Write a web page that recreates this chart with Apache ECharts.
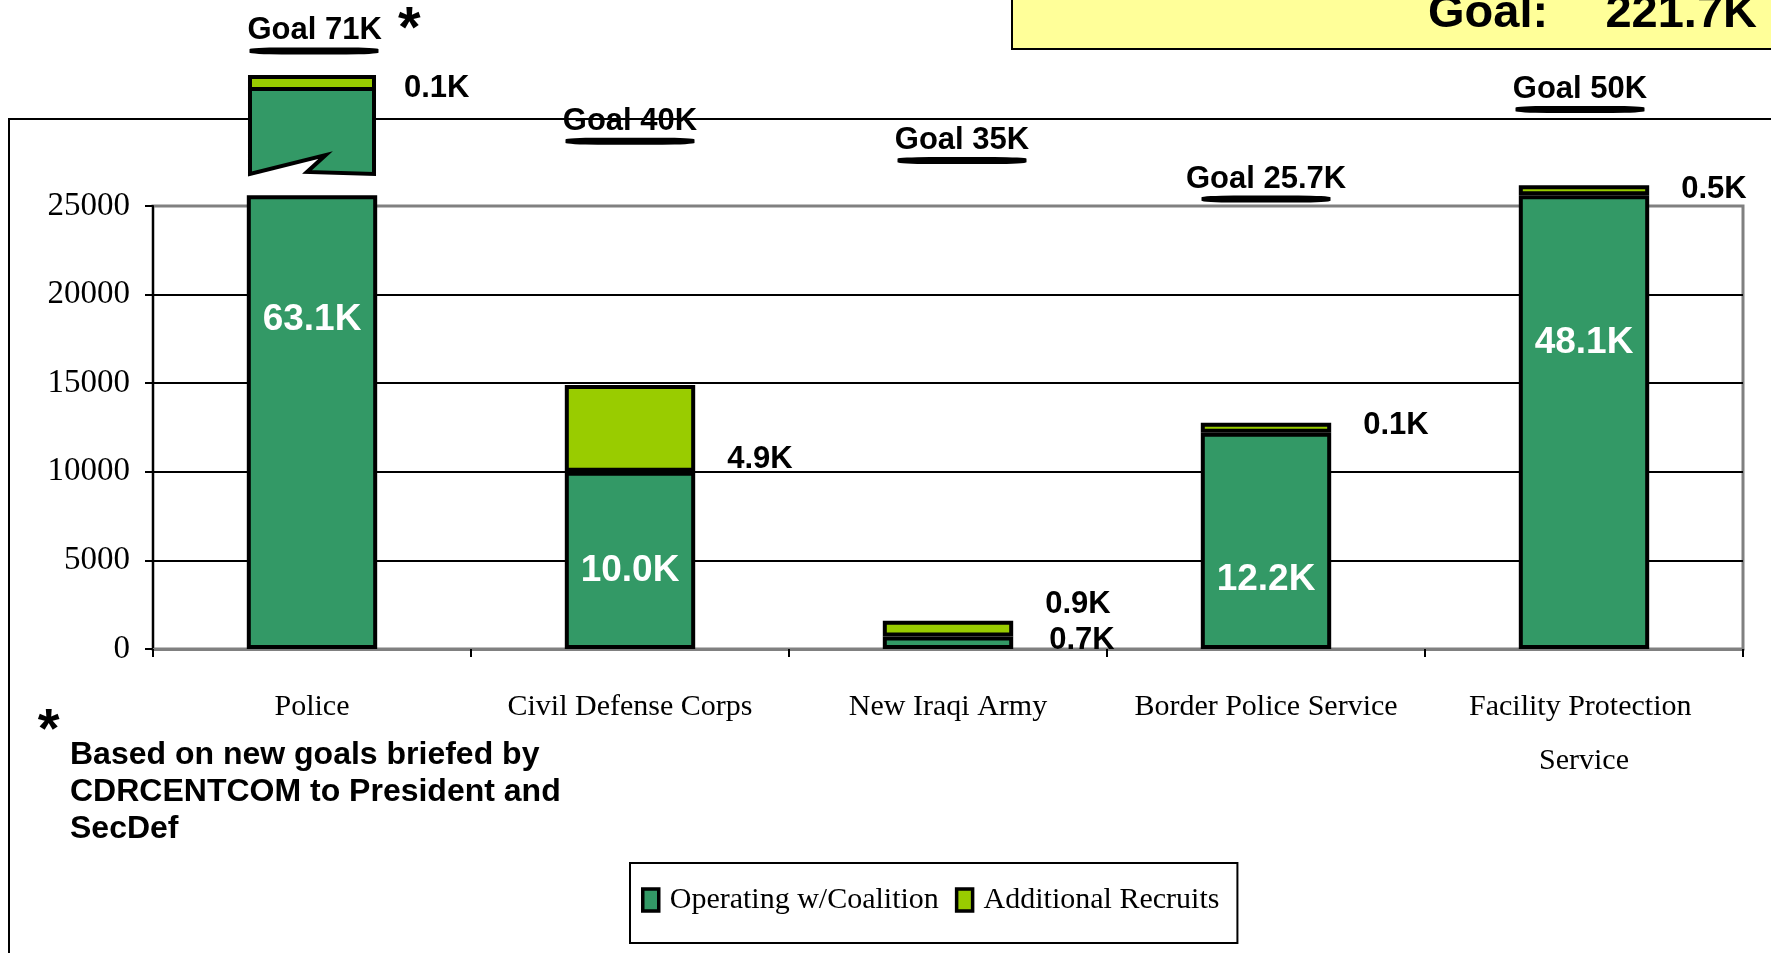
<!DOCTYPE html>
<html>
<head>
<meta charset="utf-8">
<title>Iraqi Security Forces</title>
<script src="https://cdn.jsdelivr.net/npm/echarts@6.0.0/dist/echarts.min.js"></script>
<style>
  html, body { margin: 0; padding: 0; background: #fff; }
  #chart { width: 1771px; height: 953px; }
</style>
</head>
<body>
<div id="chart"></div>
<script>
// data
const categories = ['Police', 'Civil Defense Corps', 'New Iraqi Army', 'Border Police Service', 'Facility Protection Service'];
const operating = [63100, 10000, 700, 12200, 48100];
const recruits = [100, 4900, 900, 100, 500];
const goals = [71000, 40000, 35000, 25700, 50000];
const goalNotes = ['*', '', '', '', ''];
const yTicks = [0, 5000, 10000, 15000, 20000, 25000];
const footnote = ['Based on new goals briefed by', 'CDRCENTCOM to President and', 'SecDef'];

// axis break: bars above barCap are cut there, the tall one gets a separate top piece
const barCap = 25600;
const breakLow = 58300;
const breakHigh = 64000;

const dark = '#339966';
const light = '#99CC00';
const sans = "'Liberation Sans', Arial, sans-serif";
const serif = "'Liberation Serif', 'Times New Roman', serif";

const fmtK = v => (v / 1000).toFixed(1) + 'K';
const broken = operating.map(v => v > breakLow);

// hand placed label nudges (px) like in the original slide
const opNudge = [-102, 10, -2, 39, -79];
const recNudge = [0, 31, -24, -2, -1];
const goalShift = [[2, 3], [0, -2], [14, 2], [0, 12], [-4, -3]];

const chart = echarts.init(document.getElementById('chart'));

const operatingData = operating.map((v, i) => {
  const inside = v >= 2000;
  return {
    value: Math.min(v, barCap),
    label: inside
      ? { position: 'inside', offset: [0, opNudge[i]], color: '#fff', fontSize: 37 }
      : { position: 'right', distance: 36, offset: [0, opNudge[i]], color: '#000', fontSize: 31 }
  };
});

const recruitsData = recruits.map((v, i) => broken[i] ? '-' : {
  value: v,
  label: { offset: [0, recNudge[i]] }
});

const breakData = operating
  .map((v, i) => broken[i] ? [i, v, recruits[i]] : null)
  .filter(d => d);

const goalData = goals.map((g, i) => ({
  value: g,
  symbolOffset: goalShift[i],
  label: { offset: [goalNotes[i] ? 20 : 0, 0] }
}));

const total = goals.reduce((a, b) => a + b, 0);

const barCommon = {
  type: 'bar',
  stack: 'total',
  barWidth: '41%',
  clip: false,
  silent: true,
  emphasis: { disabled: true }
};

const option = {
  animation: false,
  backgroundColor: '#fff',
  grid: [
    { left: 153, right: 28, top: 206, bottom: 304, show: true, borderColor: '#808080', borderWidth: 3, backgroundColor: 'transparent', outerBoundsMode: 'none' },
    { left: 153, right: 28, top: 73, height: 101, outerBoundsMode: 'none' },
    { left: 153, right: 28, top: 35.6, height: 169, outerBoundsMode: 'none' }
  ],
  xAxis: [
    {
      type: 'category',
      gridIndex: 0,
      data: categories,
      axisLine: { show: true, lineStyle: { color: '#808080', width: 3 } },
      axisTick: { show: true, length: 8, lineStyle: { color: '#000', width: 2 } },
      axisLabel: {
        interval: 0,
        margin: 31,
        fontFamily: serif,
        fontSize: 30,
        lineHeight: 54,
        color: '#000',
        width: 300,
        overflow: 'break'
      },
      splitLine: { show: false }
    },
    { type: 'category', gridIndex: 1, data: categories, show: false },
    { type: 'category', gridIndex: 2, data: categories, show: false }
  ],
  yAxis: [
    {
      type: 'value',
      gridIndex: 0,
      min: yTicks[0],
      max: yTicks[yTicks.length - 1],
      interval: yTicks[1] - yTicks[0],
      axisLine: { show: true, lineStyle: { color: '#000', width: 2 } },
      axisTick: { show: true, length: 8, lineStyle: { color: '#000', width: 2 } },
      axisLabel: { margin: 23, fontFamily: serif, fontSize: 33, color: '#000', formatter: v => String(v) },
      splitLine: { show: true, showMinLine: false, showMaxLine: false, lineStyle: { color: '#000', width: 2 } }
    },
    { type: 'value', gridIndex: 1, min: breakLow, max: breakHigh, show: false },
    { type: 'value', gridIndex: 2, min: 20000, max: 75000, show: false }
  ],
  legend: {
    data: ['Operating w/Coalition', 'Additional Recruits'],
    left: 630,
    top: 863,
    orient: 'horizontal',
    padding: [22, 18, 28, 11],
    itemGap: 16,
    itemWidth: 16,
    itemHeight: 22,
    icon: 'rect',
    borderColor: '#000',
    borderWidth: 2,
    backgroundColor: '#fff',
    selectedMode: false,
    itemStyle: { borderColor: '#000', borderWidth: 3.5 },
    textStyle: { fontFamily: serif, fontSize: 30, color: '#000', padding: [0, 0, 0, 6] }
  },
  series: [
    {
      ...barCommon,
      name: 'Operating w/Coalition',
      itemStyle: { color: dark, borderColor: '#000', borderWidth: 4 },
      label: {
        show: true,
        fontFamily: sans,
        fontWeight: 'bold',
        textBorderWidth: 0,
        formatter: p => fmtK(operating[p.dataIndex])
      },
      data: operatingData
    },
    {
      ...barCommon,
      name: 'Additional Recruits',
      barMinHeight: 10,
      itemStyle: { color: light, borderColor: '#000', borderWidth: 4 },
      label: {
        show: true,
        position: 'right',
        distance: 32,
        fontFamily: sans,
        fontWeight: 'bold',
        fontSize: 31,
        color: '#000',
        textBorderWidth: 0,
        formatter: p => fmtK(recruits[p.dataIndex])
      },
      data: recruitsData
    },
    {
      // top piece of the broken Police bar
      type: 'custom',
      name: 'break',
      xAxisIndex: 1,
      yAxisIndex: 1,
      silent: true,
      z: 5,
      encode: { x: 0, y: 1 },
      data: breakData,
      renderItem: (params, api) => {
        const x = api.value(0);
        const top = api.coord([x, api.value(1)]);
        const base = api.coord([x, breakLow]);
        const w = api.size([1, 0])[0] * 0.39;
        const L = top[0] - w / 2, R = top[0] + w / 2, T = top[1], B = base[1];
        const capH = Math.max(api.size([0, api.value(2)])[1], 12);
        return {
          type: 'group',
          children: [
            {
              type: 'polygon',
              shape: { points: [[L, T], [R, T], [R, B], [L + 0.46 * w, B - 2], [L + 0.61 * w, B - 19], [L, B]] },
              style: { fill: dark, stroke: '#000', lineWidth: 4, lineJoin: 'miter' }
            },
            {
              type: 'rect',
              shape: { x: L, y: T - capH, width: w, height: capH },
              style: { fill: light, stroke: '#000', lineWidth: 4 }
            },
            {
              type: 'text',
              x: R + 30,
              y: T - capH / 2 + 6,
              style: {
                text: fmtK(api.value(2)),
                fontFamily: sans,
                fontWeight: 'bold',
                fontSize: 31,
                fill: '#000',
                verticalAlign: 'middle'
              }
            }
          ]
        };
      }
    },
    {
      // goal annotations with underline
      type: 'scatter',
      name: 'goals',
      xAxisIndex: 2,
      yAxisIndex: 2,
      silent: true,
      z: 4,
      symbol: 'roundRect',
      symbolSize: [129, 7],
      itemStyle: { color: '#000', opacity: 1 },
      data: goalData,
      label: {
        show: true,
        position: 'top',
        distance: 1,
        formatter: p => '{g|Goal ' + goals[p.dataIndex] / 1000 + 'K}' +
          (goalNotes[p.dataIndex] ? '{s| ' + goalNotes[p.dataIndex] + '}' : ''),
        rich: {
          g: { fontFamily: sans, fontWeight: 'bold', fontSize: 31, lineHeight: 31, color: '#000' },
          s: { fontFamily: sans, fontWeight: 'bold', fontSize: 58, lineHeight: 31, color: '#000' }
        }
      }
    }
  ],
  graphic: [
    {
      type: 'rect',
      z: 0,
      silent: true,
      shape: { x: 9, y: 119, width: 1820, height: 900 },
      style: { fill: 'none', stroke: '#000', lineWidth: 2 }
    },
    {
      type: 'rect',
      z: 0,
      silent: true,
      shape: { x: 1012, y: -20, width: 820, height: 69 },
      style: { fill: '#FFFF99', stroke: '#000', lineWidth: 2 }
    },
    {
      type: 'text',
      x: 1428,
      y: 14,
      style: { text: 'Goal:', fontFamily: sans, fontWeight: 'bold', fontSize: 47, fill: '#000', verticalAlign: 'middle' }
    },
    {
      type: 'text',
      x: 1757,
      y: 14,
      style: { text: fmtK(total), fontFamily: sans, fontWeight: 'bold', fontSize: 47, fill: '#000', align: 'right', verticalAlign: 'middle' }
    },
    {
      type: 'text',
      x: 48.6,
      y: 732,
      style: { text: '*', fontFamily: sans, fontWeight: 'bold', fontSize: 56, fill: '#000', align: 'center', verticalAlign: 'middle' }
    },
    {
      type: 'text',
      x: 70,
      y: 736.5,
      style: { text: footnote.join('\n'), fontFamily: sans, fontWeight: 'bold', fontSize: 32, lineHeight: 37, fill: '#000', verticalAlign: 'top' }
    }
  ]
};

chart.setOption(option);
window.addEventListener('resize', () => chart.resize());
</script>
</body>
</html>
